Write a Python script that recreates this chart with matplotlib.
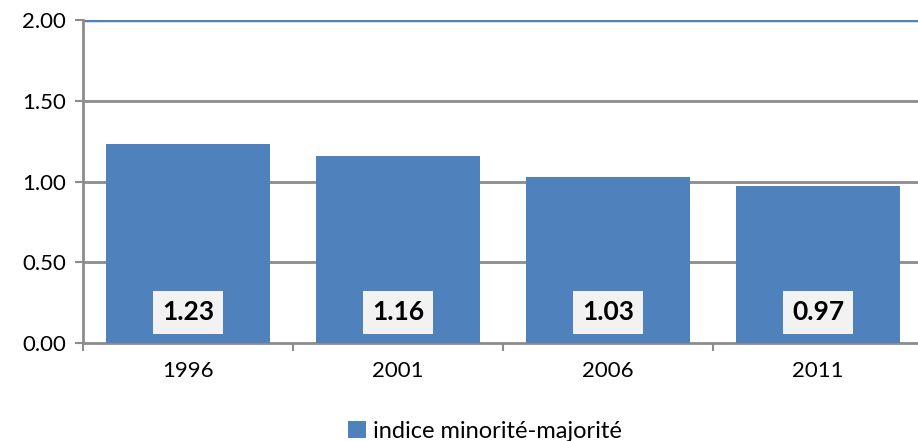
from matplotlib import pyplot as plt
import numpy as np

years = ['1996', '2001', '2006', '2011']
values = [1.23, 1.16, 1.03, 0.97]
series_name = 'indice minorité-majorité'

plt.rcParams['font.family'] = ['Lato', 'DejaVu Sans']

fig = plt.figure(figsize=(9.18, 4.41), dpi=100)
ax = fig.add_axes([83 / 918, (441 - 343) / 441, (923 - 83) / 918, (343 - 20) / 441])

x = np.arange(len(years))
bars = ax.bar(x, values, width=0.78, color='#4F81BD', zorder=3, label=series_name)

for xi, v in zip(x, values):
    ax.text(xi, 0.19, '%.2f' % v, ha='center', va='center', fontsize=19,
            fontweight='bold', color='black', zorder=4,
            bbox=dict(boxstyle='square,pad=0.35', fc='#F2F2F2', ec='none'))

ax.set_xlim(-0.5, len(years) - 0.5)
ax.set_ylim(0, 2.0)
ax.set_yticks([0, 0.5, 1.0, 1.5, 2.0])
ax.set_yticklabels(['0.00', '0.50', '1.00', '1.50', '2.00'])
for y in [0.5, 1.0, 1.5]:
    ax.axhline(y, color='#8C8C8C', lw=2, zorder=1)
ax.axhline(2.0, color='#4F81BD', lw=2.5, zorder=2)

ax.set_xticks(x)
ax.set_xticklabels(years)
ax.set_xticks(np.arange(len(years) + 1) - 0.5, minor=True)
ax.tick_params(axis='x', which='major', length=0, labelsize=16, pad=13)
ax.tick_params(axis='x', which='minor', length=6, width=1.5, color='#8C8C8C', direction='out')
ax.tick_params(axis='y', length=6, width=1.5, color='#8C8C8C', labelsize=16, pad=6)

for s in ['top', 'right']:
    ax.spines[s].set_visible(False)
ax.spines['left'].set_color('#8C8C8C')
ax.spines['left'].set_linewidth(2)
ax.spines['bottom'].set_color('#8C8C8C')
ax.spines['bottom'].set_linewidth(2)

fig.legend(handles=[bars], labels=[series_name], loc='center', bbox_to_anchor=(485 / 918, 10 / 441),
           frameon=False, fontsize=17, handlelength=0.75, handleheight=0.75, handletextpad=0.3)

plt.savefig('out.png', dpi=100)
